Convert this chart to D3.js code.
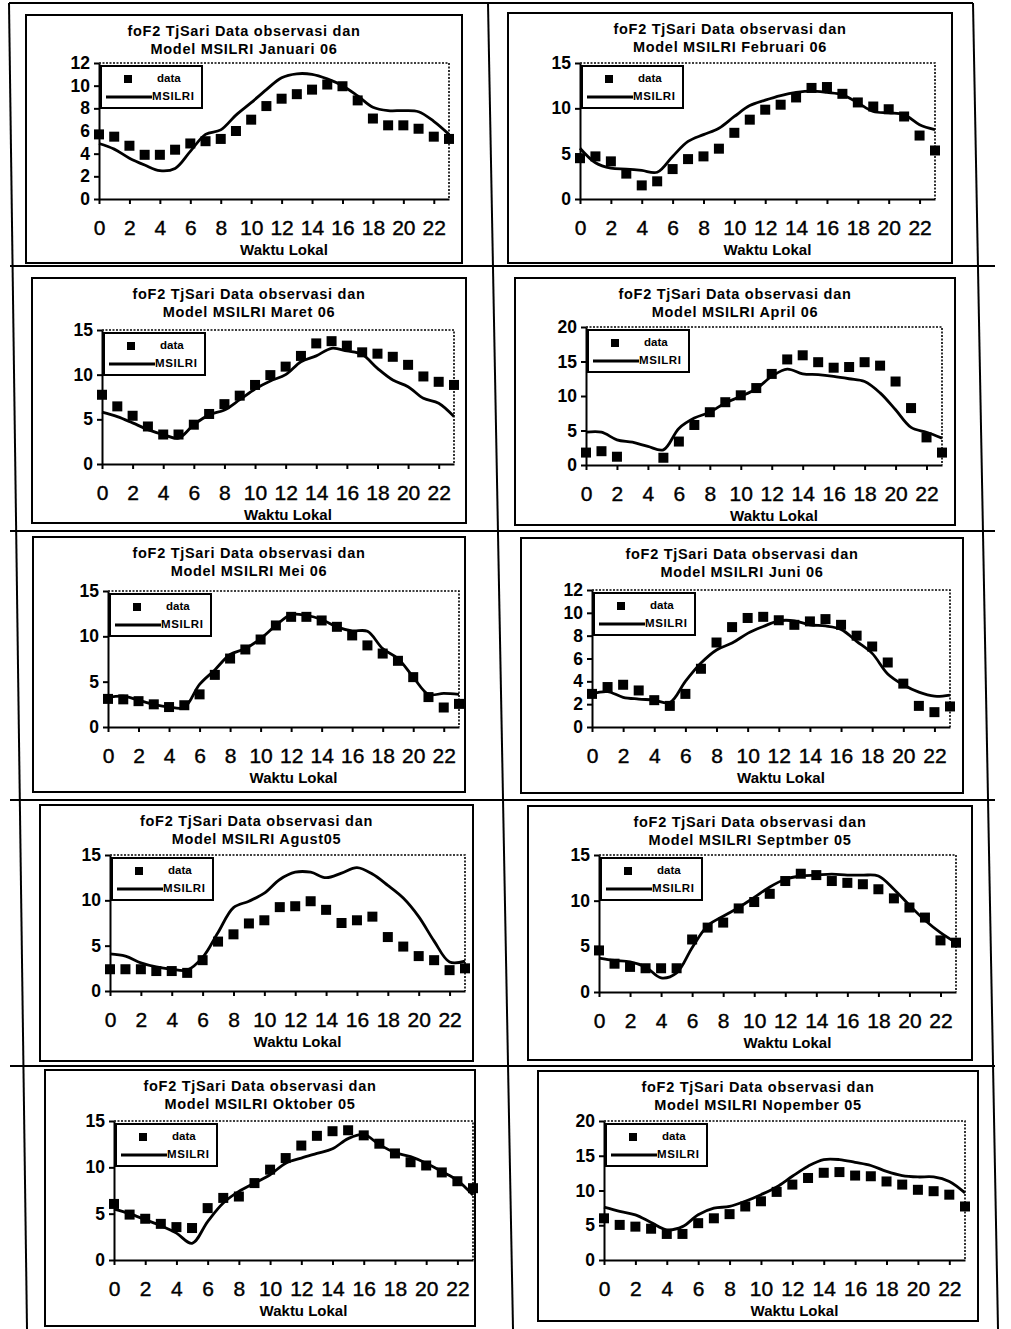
<!DOCTYPE html>
<html>
<head>
<meta charset="utf-8">
<script src="https://cdn.jsdelivr.net/npm/d3@7"></script>
<style>
  body { margin: 0; background: #fff; }
  svg { display: block; }
</style>
</head>
<body>
<script>
// hours of the day (category axis)
const hours = [0,1,2,3,4,5,6,7,8,9,10,11,12,13,14,15,16,17,18,19,20,21,22,23];
const hourLabels = [0,2,4,6,8,10,12,14,16,18,20,22];

const titleTop = 'foF2 TjSari Data observasi dan';
const titleBottom = ['Model MSILRI Januari 06', 'Model MSILRI Februari 06', 'Model MSILRI Maret 06',
  'Model MSILRI April 06', 'Model MSILRI Mei 06', 'Model MSILRI Juni 06', 'Model MSILRI Agust05',
  'Model MSILRI Septmber 05', 'Model MSILRI Oktober 05', 'Model MSILRI Nopember 05'];

const yMax = [12, 15, 15, 20, 15, 12, 15, 15, 15, 20];
const yTickLabels = [
  [0,2,4,6,8,10,12], [0,5,10,15], [0,5,10,15], [0,5,10,15,20], [0,5,10,15],
  [0,2,4,6,8,10,12], [0,5,10,15], [0,5,10,15], [0,5,10,15], [0,5,10,15,20]
];

// observed foF2 (squares)
const dataJan = [5.7,5.5,4.7,3.9,3.9,4.35,4.9,5.1,5.3,6.0,7.0,8.2,8.85,9.25,9.65,10.1,9.95,8.7,7.1,6.5,6.5,6.2,5.5,5.3];
const dataFeb = [4.5,4.7,4.15,2.8,1.5,1.95,3.3,4.4,4.7,5.55,7.3,8.75,9.85,10.4,11.2,12.25,12.35,11.6,10.65,10.2,9.9,9.1,7.0,5.35];
const dataMar = [7.75,6.45,5.4,4.2,3.3,3.3,4.4,5.6,6.7,7.65,8.85,9.95,10.9,12.1,13.5,13.75,13.25,12.5,12.35,12.0,11.1,9.8,9.2,8.85];
const dataApr = [1.8,2.0,1.2,null,null,1.05,3.4,5.8,7.65,9.1,10.1,11.15,13.2,15.3,15.9,14.9,14.1,14.2,14.9,14.4,12.1,8.25,4.0,1.8];
const dataMei = [3.1,3.05,2.85,2.5,2.2,2.4,3.6,5.75,7.55,8.55,9.65,11.2,12.15,12.15,11.75,11.05,10.1,9.0,8.1,7.3,5.5,3.3,2.15,2.55];
const dataJun = [2.9,3.5,3.7,3.2,2.35,1.85,2.9,5.1,7.4,8.75,9.55,9.65,9.35,8.95,9.25,9.45,8.95,8.0,7.05,5.65,3.8,1.85,1.3,1.8];
const dataAgu = [2.4,2.4,2.4,2.2,2.2,2.0,3.4,5.45,6.25,7.45,7.8,9.25,9.35,9.9,8.95,7.5,7.8,8.2,5.95,4.9,3.85,3.4,2.3,2.5];
const dataSep = [4.55,3.1,2.75,2.6,2.6,2.6,5.75,7.05,7.6,9.15,9.85,10.75,12.15,12.95,12.8,12.15,11.95,11.8,11.25,10.25,9.25,8.15,5.65,5.4];
const dataOkt = [6.05,4.9,4.45,3.9,3.55,3.45,5.6,6.7,6.85,8.3,9.75,11.0,12.35,13.4,13.9,14.0,13.45,12.55,11.5,10.55,10.2,9.45,8.5,7.75];
const dataNop = [6.0,5.05,4.8,4.5,3.75,3.75,5.3,6.0,6.6,7.7,8.45,9.8,10.85,11.8,12.55,12.65,12.15,12.05,11.3,10.85,10.1,9.9,9.4,7.7];

// MSILRI model (smooth line)
const modelJan = [4.9,4.4,3.6,3.0,2.5,2.7,4.2,5.7,6.1,7.4,8.5,9.65,10.7,11.05,11.0,10.6,10.0,9.1,8.1,7.8,7.8,7.7,6.85,5.7];
const modelFeb = [5.6,4.0,3.4,3.3,3.15,2.95,4.7,6.35,7.1,7.8,9.1,10.3,10.9,11.4,11.75,11.9,11.75,11.5,10.6,9.65,9.5,9.3,8.2,7.65];
const modelMar = [5.8,5.3,4.6,3.85,3.3,2.9,4.4,5.5,6.05,7.2,8.4,9.3,10.0,11.45,12.1,12.95,12.65,12.25,10.7,9.4,8.65,7.35,6.8,5.3];
const modelApr = [4.75,4.75,3.65,3.3,2.7,2.2,5.3,6.8,7.65,9.0,9.95,11.05,12.85,13.9,13.2,13.1,12.85,12.5,12.1,10.45,8.0,5.45,4.75,3.9];
const modelMei = [3.25,3.4,2.95,2.5,2.2,2.15,4.7,6.3,8.0,8.65,9.75,11.2,12.4,12.3,11.85,11.05,10.6,10.55,8.65,7.55,5.5,3.6,3.7,3.6];
const modelJun = [2.9,3.1,2.6,2.45,2.35,2.15,4.0,5.6,6.75,7.35,8.2,8.8,9.3,9.3,8.95,8.85,8.55,7.5,6.45,4.65,3.7,3.05,2.7,2.8];
const modelAgu = [4.1,3.85,3.1,2.65,2.4,2.3,3.7,6.45,9.2,9.9,10.8,12.3,13.1,13.1,12.5,13.0,13.6,12.9,11.65,10.25,8.2,5.5,3.2,3.3];
const modelSep = [3.7,3.45,3.3,2.75,1.55,2.1,4.85,7.25,8.3,9.25,10.35,11.5,12.35,12.7,12.8,12.9,12.8,12.8,12.7,11.25,9.5,7.85,6.5,5.4];
const modelOkt = [5.5,5.0,4.35,3.7,2.9,1.8,4.15,6.15,7.4,8.3,9.2,10.45,11.0,11.5,12.0,13.1,13.55,12.45,11.6,11.15,10.45,9.55,8.6,7.0];
const modelNop = [7.6,7.0,6.5,5.4,4.35,4.8,6.5,7.45,7.7,8.45,9.4,10.5,12.05,13.5,14.45,14.45,14.05,13.6,12.75,12.15,11.95,11.95,11.3,9.65];

const observed = [dataJan, dataFeb, dataMar, dataApr, dataMei, dataJun, dataAgu, dataSep, dataOkt, dataNop];
const model = [modelJan, modelFeb, modelMar, modelApr, modelMei, modelJun, modelAgu, modelSep, modelOkt, modelNop];

// panel placement on the scanned page (box = chart frame, x0/x1/yTop/yBot = plot area)
const layout = [
  { box: [26, 15, 462, 263],    x0: 99,  x1: 449, yTop: 63,   yBot: 199 },
  { box: [508, 13, 952, 263],   x0: 580, x1: 935, yTop: 63,   yBot: 199 },
  { box: [32, 278, 466, 523],   x0: 102, x1: 454, yTop: 330,  yBot: 464 },
  { box: [515, 278, 955, 525],  x0: 586, x1: 942, yTop: 327,  yBot: 465 },
  { box: [33, 537, 465, 792],   x0: 108, x1: 459, yTop: 591,  yBot: 727 },
  { box: [521, 538, 963, 793],  x0: 592, x1: 950, yTop: 590,  yBot: 727 },
  { box: [40, 805, 473, 1061],  x0: 110, x1: 465, yTop: 855,  yBot: 991 },
  { box: [528, 806, 972, 1060], x0: 599, x1: 956, yTop: 855,  yBot: 992 },
  { box: [45, 1070, 475, 1326], x0: 114, x1: 473, yTop: 1121, yBot: 1260 },
  { box: [538, 1071, 978, 1321],x0: 604, x1: 965, yTop: 1121, yBot: 1260 }
];

const font = '"Liberation Sans", Arial, sans-serif';

const svg = d3.select('body')
  .append('svg')
  .attr('width', 1011)
  .attr('height', 1329);

svg.append('rect').attr('width', 1011).attr('height', 1329).attr('fill', '#fff');

// table grid of the page (scan is slightly skewed)
const grid = svg.append('g').attr('stroke', '#000').attr('stroke-width', 2);
grid.append('line').attr('x1', 9).attr('y1', 3).attr('x2', 973).attr('y2', 3);
grid.append('line').attr('x1', 9).attr('y1', 3).attr('x2', 27).attr('y2', 1329);
grid.append('line').attr('x1', 488).attr('y1', 3).attr('x2', 513).attr('y2', 1329);
grid.append('line').attr('x1', 973).attr('y1', 3).attr('x2', 998).attr('y2', 1329);
[266, 531, 800, 1066].forEach(yy => {
  grid.append('line').attr('x1', 10).attr('y1', yy).attr('x2', 995).attr('y2', yy);
});

function drawPanel(i) {
  const lay = layout[i];
  const [bx0, by0, bx1, by1] = lay.box;
  const g = svg.append('g');

  // chart frame
  g.append('rect')
    .attr('x', bx0).attr('y', by0)
    .attr('width', bx1 - bx0).attr('height', by1 - by0)
    .attr('fill', '#fff').attr('stroke', '#000').attr('stroke-width', 2);

  // title (two lines)
  const cx = (bx0 + bx1) / 2;
  [titleTop, titleBottom[i]].forEach((t, k) => {
    g.append('text').attr('x', cx).attr('y', by0 + 17 + k * 18)
      .attr('text-anchor', 'middle').attr('dominant-baseline', 'middle')
      .attr('font-family', font).attr('font-weight', 'bold').attr('font-size', 14.5)
      .attr('letter-spacing', 0.7)
      .text(t);
  });

  const x = d3.scaleLinear().domain([0, 23]).range([lay.x0, lay.x1]);
  const y = d3.scaleLinear().domain([0, yMax[i]]).range([lay.yBot, lay.yTop]);

  // dotted plot-area border (top and right)
  g.append('path')
    .attr('d', `M${x(0)},${y(yMax[i])}H${x(23)}V${y(0)}`)
    .attr('fill', 'none').attr('stroke', '#000').attr('stroke-width', 1.6)
    .attr('stroke-dasharray', '2,1.5');

  // axes
  const yAxis = g.append('g')
    .attr('transform', `translate(${x(0)},0)`)
    .call(d3.axisLeft(y).tickValues(yTickLabels[i]).tickSize(5).tickPadding(4).tickSizeOuter(0));
  yAxis.selectAll('text')
    .attr('font-family', font).attr('font-weight', 'bold').attr('font-size', 17.5).attr('fill', '#000');

  const xAxis = g.append('g')
    .attr('transform', `translate(0,${y(0)})`)
    .call(d3.axisBottom(x).tickValues(hourLabels).tickSize(5).tickPadding(16).tickSizeOuter(0));
  xAxis.selectAll('text')
    .attr('font-family', font).attr('font-size', 21).attr('fill', '#000')
    .attr('stroke', '#000').attr('stroke-width', 0.4);

  [yAxis, xAxis].forEach(a => {
    a.attr('font-family', null).attr('font-size', null);
    a.select('.domain').attr('stroke-width', 2);
    a.selectAll('.tick line').attr('stroke-width', 2);
  });

  // axis title
  g.append('text')
    .attr('x', (x(0) + x(23)) / 2 + 10).attr('y', y(0) + 52)
    .attr('text-anchor', 'middle').attr('dominant-baseline', 'middle')
    .attr('font-family', font).attr('font-weight', 'bold').attr('font-size', 15)
    .text('Waktu Lokal');

  // model line
  const line = d3.line()
    .defined(d => d != null)
    .x((d, j) => x(hours[j]))
    .y(d => y(d))
    .curve(d3.curveCatmullRom.alpha(0.5));

  g.append('path')
    .datum(model[i])
    .attr('d', line)
    .attr('fill', 'none').attr('stroke', '#000').attr('stroke-width', 2.8);

  // observed squares
  const pts = hours.map((h, j) => ({ h: h, v: observed[i][j] })).filter(p => p.v != null);
  g.selectAll('rect.pt')
    .data(pts)
    .join('rect')
    .attr('class', 'pt')
    .attr('x', p => x(p.h) - 5).attr('y', p => y(p.v) - 5)
    .attr('width', 10).attr('height', 10)
    .attr('fill', '#000');

  // legend
  const lx = x(0) + 2, ly = y(yMax[i]) + 3;
  const leg = g.append('g').attr('transform', `translate(${lx},${ly})`);
  leg.append('rect').attr('width', 101).attr('height', 42)
    .attr('fill', '#fff').attr('stroke', '#000').attr('stroke-width', 2);
  leg.append('rect').attr('x', 23).attr('y', 9).attr('width', 8).attr('height', 8).attr('fill', '#000');
  leg.append('text').attr('x', 56).attr('y', 13).attr('dominant-baseline', 'middle')
    .attr('font-family', font).attr('font-weight', 'bold').attr('font-size', 11.5)
    .text('data');
  leg.append('line').attr('x1', 5).attr('x2', 51).attr('y1', 31).attr('y2', 31)
    .attr('stroke', '#000').attr('stroke-width', 2.8);
  leg.append('text').attr('x', 51).attr('y', 31).attr('dominant-baseline', 'middle')
    .attr('font-family', font).attr('font-weight', 'bold').attr('font-size', 11.5)
    .attr('letter-spacing', 0.6)
    .text('MSILRI');
}

for (let i = 0; i < layout.length; i++) drawPanel(i);
</script>
</body>
</html>
